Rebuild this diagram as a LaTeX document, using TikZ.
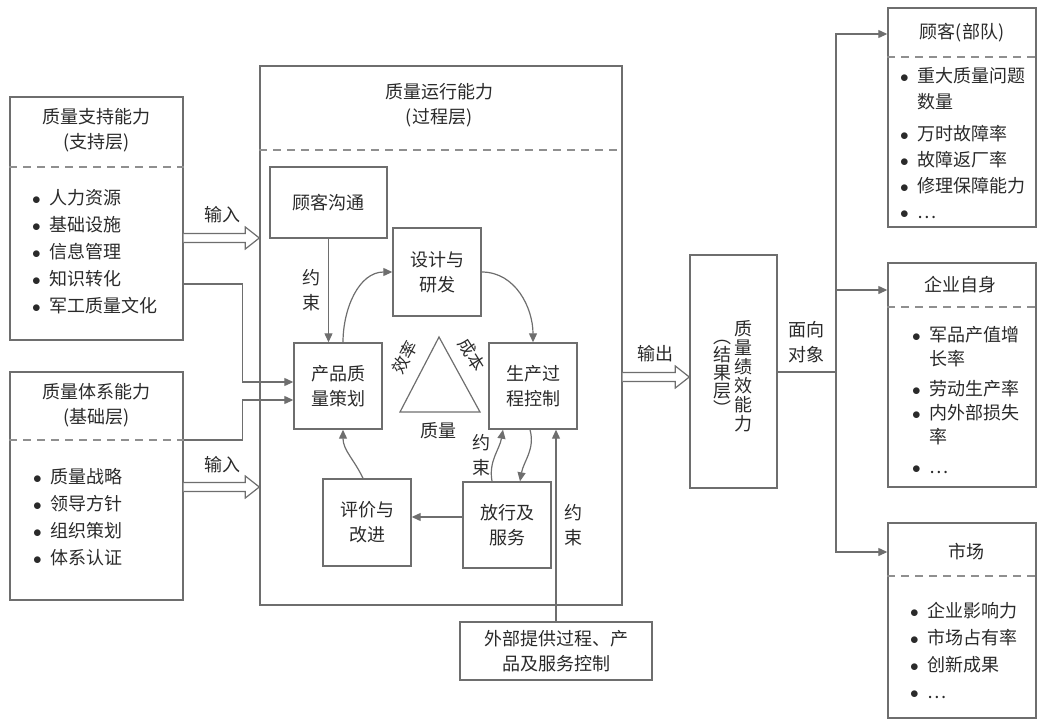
\documentclass[tikz,border=0pt]{standalone}
\usepackage{fontspec}
\setmainfont{Noto Sans CJK SC}
\usepackage{tikz}
\usetikzlibrary{arrows.meta}
\usetikzlibrary{calc}
\definecolor{linegray}{HTML}{6E6E6E}
\definecolor{dashgray}{HTML}{8F8F8F}
\definecolor{textdark}{HTML}{2A2A2A}
\newcommand{\itemdot}{$\bullet$\hspace{9pt}}
\newcommand{\itemgap}{\hphantom{$\bullet$\hspace{9pt}}}
\newcommand{\fatarrow}[2]{\draw [fat_style] ($(#1)+(0,4.5)$) -- ($(#2)+(-14,4.5)$) -- ($(#2)+(-14,11)$) -- (#2) -- ($(#2)+(-14,-11)$) -- ($(#2)+(-14,-4.5)$) -- ($(#1)+(0,-4.5)$);}

\begin{document}
\begin{tikzpicture}[x=1pt, y=1pt, text=textdark,
        box_style/.style={rectangle, draw=linegray, line width=1.4pt, inner sep=0pt},
        text_style/.style={font=\fontsize{18}{25}\selectfont, align=center, inner sep=0pt},
        list_style/.style={font=\fontsize{18}{27}\selectfont, align=left, inner sep=0pt, anchor=west},
        sep_style/.style={draw=dashgray, line width=1.5pt, dash pattern=on 8pt off 6pt},
        edge_style/.style={draw=linegray, line width=1.2pt, -{Triangle[length=9pt,width=8pt]}},
        line_style/.style={draw=linegray, line width=1.2pt},
        fat_style/.style={draw=linegray, line width=1.2pt, fill=white}]

        \useasboundingbox (0,0) rectangle (1044,-723);

        \node [box_style, minimum width=173pt, minimum height=243pt](sup) at (96.5,-218.5) {};
        \node [box_style, minimum width=173pt, minimum height=228pt](base) at (96.5,-486) {};
        \node [box_style, minimum width=362pt, minimum height=539pt](main) at (441,-335.5) {};
        \node [box_style, minimum width=87pt, minimum height=233pt](res) at (733.5,-371.5) {};
        \node [box_style, minimum width=148pt, minimum height=219pt](cust) at (962,-117.5) {};
        \node [box_style, minimum width=148pt, minimum height=224pt](ent) at (962,-375) {};
        \node [box_style, minimum width=148pt, minimum height=195pt](mkt) at (962,-620.5) {};

        \draw [sep_style] (sup.west |- 0,-167) -- (sup.east |- 0,-167);
        \draw [sep_style] (base.west |- 0,-440) -- (base.east |- 0,-440);
        \draw [sep_style] (main.west |- 0,-150) -- (main.east |- 0,-150);
        \draw [sep_style] (cust.west |- 0,-57) -- (cust.east |- 0,-57);
        \draw [sep_style] (ent.west |- 0,-307) -- (ent.east |- 0,-307);
        \draw [sep_style] (mkt.west |- 0,-576) -- (mkt.east |- 0,-576);

        \node [text_style](sup_title) at (96.5,-130) {质量支持能力\\(支持层)};
        \node [text_style](base_title) at (96.5,-405) {质量体系能力\\(基础层)};
        \node [text_style](main_title) at (439,-105) {质量运行能力\\(过程层)};
        \node [text_style](cust_title) at (962,-33) {顾客(部队)};
        \node [text_style](ent_title) at (960,-285) {企业自身};
        \node [text_style](mkt_title) at (966,-552) {市场};

        \node [list_style](sup_list) at (32,-252) {\itemdot 人力资源\\\itemdot 基础设施\\\itemdot 信息管理\\\itemdot 知识转化\\\itemdot 军工质量文化};
        \node [list_style](base_list) at (33,-517) {\itemdot 质量战略\\\itemdot 领导方针\\\itemdot 组织策划\\\itemdot 体系认证};
        \node [list_style, font=\fontsize{18}{26}\selectfont](cust_list) at (900,-143) {\itemdot 重大质量问题\\\itemgap 数量\\[6pt]\itemdot 万时故障率\\\itemdot 故障返厂率\\\itemdot 修理保障能力\\\itemdot …};
        \node [list_style, font=\fontsize{18}{24}\selectfont](ent_list) at (912,-400) {\itemdot 军品产值增\\\itemgap 长率\\[6pt]\itemdot 劳动生产率\\\itemdot 内外部损失\\\itemgap 率\\[6pt]\itemdot …};
        \node [list_style](mkt_list) at (910,-650.5) {\itemdot 企业影响力\\\itemdot 市场占有率\\\itemdot 创新成果\\\itemdot …};

        \node [box_style, text_style, minimum width=117pt, minimum height=71pt](cust_comm) at (328.5,-202.5) {顾客沟通};
        \node [box_style, text_style, minimum width=88pt, minimum height=88pt](design) at (437,-272) {设计与\\研发};
        \node [box_style, text_style, minimum width=88pt, minimum height=86pt](plan) at (338,-386) {产品质\\量策划};
        \node [box_style, text_style, minimum width=88pt, minimum height=86pt](prod) at (533,-386) {生产过\\程控制};
        \node [box_style, text_style, minimum width=88pt, minimum height=87pt](eval) at (367,-522.5) {评价与\\改进};
        \node [box_style, text_style, minimum width=88pt, minimum height=86pt](release) at (507,-525) {放行及\\服务};
        \node [box_style, text_style, minimum width=192pt, minimum height=58pt](ext) at (556,-651) {外部提供过程、产\\品及服务控制};

        \draw [line_style] (439,-337) -- (400,-412) -- (480,-412) -- cycle;
        \node [text_style, font=\fontsize{17}{20}\selectfont, rotate=62](eff_label) at (405,-357) {效率};
        \node [text_style, font=\fontsize{17}{20}\selectfont, rotate=-58](cost_label) at (472,-355) {成本};
        \node [text_style](qual_label) at (438,-431) {质量};

        \node [text_style, font=\fontsize{18}{19}\selectfont](res_a) at (743,-376) {质\\量\\绩\\效\\能\\力};
        \node [text_style, font=\fontsize{18}{18}\selectfont](res_b) at (722,-378) {︵\\结\\果\\层\\︶};

        \draw [edge_style] (cust_comm.south) -- (cust_comm.south |- plan.north) node [text_style, midway, left=7pt](lim_a) {约\\束};
        \draw [edge_style] ($(plan.north)+(5,0)$) to[out=90,in=180] (design.west);
        \draw [edge_style] (design.east) to[out=0,in=90] (prod.north);
        \draw [edge_style] ($(prod.south)+(-3,0)$) to[out=-75,in=80] ($(release.north)+(13,0)$);
        \draw [edge_style] ($(release.north)+(-15,0)$) to[out=100,in=-100] node [text_style, midway, left=4pt](lim_b) {约\\束} ($(prod.south)+(-30,0)$);
        \draw [edge_style] (release.west |- 0,-517) -- (eval.east |- 0,-517);
        \draw [edge_style] ($(eval.north)+(-4,0)$) to[out=115,in=-90] ($(plan.south)+(5,0)$);
        \draw [edge_style] (ext.north) -- (ext.north |- prod.south) node [text_style, pos=0.5, right=8pt](lim_c) {约\\束};

        \draw [edge_style] (sup.east |- 0,-284) -- ++(59,0) |- (plan.west |- 0,-382);
        \draw [edge_style] (base.east |- 0,-440) -- ++(59,0) |- (plan.west |- 0,-400);

        \coordinate (in_a) at (sup.east |- 0,-238);
        \coordinate (in_a_end) at (main.west |- 0,-238);
        \coordinate (in_b) at (base.east |- 0,-487);
        \coordinate (in_b_end) at (main.west |- 0,-487);
        \coordinate (out_a) at (main.east |- 0,-377);
        \coordinate (out_a_end) at (res.west |- 0,-377);
        \fatarrow{in_a}{in_a_end}
        \fatarrow{in_b}{in_b_end}
        \fatarrow{out_a}{out_a_end}
        \node [text_style](in_a_label) at (222,-215) {输入};
        \node [text_style](in_b_label) at (222,-465) {输入};
        \node [text_style](out_a_label) at (655,-354) {输出};

        \coordinate (hub) at (836,-372);
        \draw [line_style] (res.east |- hub) -- (hub);
        \draw [edge_style] (hub) |- (cust.west |- 0,-34);
        \draw [edge_style] (hub) |- (ent.west |- 0,-290);
        \draw [edge_style] (hub) |- (mkt.west |- 0,-552);
        \node [text_style](face_label) at (806,-342) {面向\\对象};
\end{tikzpicture}
\end{document}
